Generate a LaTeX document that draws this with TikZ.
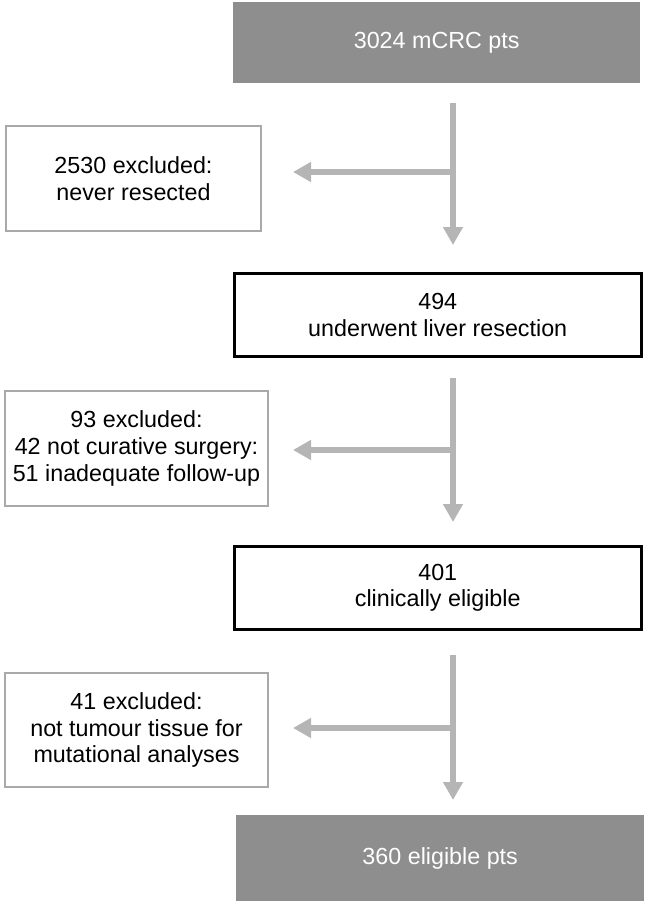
\documentclass[tikz,border=0pt]{standalone}
\usepackage{fontspec}
\setmainfont{Liberation Sans}
\usetikzlibrary{arrows.meta}
\definecolor{boxgray}{HTML}{8E8E8E}
\definecolor{arrgray}{HTML}{B5B5B5}
\definecolor{exgray}{HTML}{A9A9A9}
\begin{document}
\begin{tikzpicture}[x=1pt,y=-1pt,
  base/.style={align=center, inner sep=0pt, anchor=north west, font=\fontsize{23.3}{26.7}\selectfont},
  endbox/.style={base, fill=boxgray, text=white},
  mainbox/.style={base, draw=black, line width=2.5pt},
  exbox/.style={base, draw=exgray, line width=2pt},
  arr/.style={draw=arrgray, line width=6pt, -{Triangle[width=19pt,length=18pt]}}]
\useasboundingbox (0,0) rectangle (647,904);
% main column
\node[endbox, minimum width=407pt, minimum height=81pt] (top) at (233,2) {3024 mCRC pts};
\node[mainbox, minimum width=407pt, minimum height=83pt] (res) at (233,272) {494\\underwent liver resection};
\node[mainbox, minimum width=407pt, minimum height=83pt] (clin) at (233,545) {401\\clinically eligible};
\node[endbox, minimum width=408pt, minimum height=86pt] (fin) at (236,815) {360 eligible pts};
% excluded boxes
\node[exbox, minimum width=255pt, minimum height=105pt] (ex1) at (5,125) {2530 excluded:\\never resected};
\node[exbox, minimum width=263pt, minimum height=115pt] (ex2) at (4,390) {93 excluded:\\42 not curative surgery:\\51 inadequate follow-up};
\node[exbox, minimum width=263pt, minimum height=114pt] (ex3) at (4,672) {41 excluded:\\not tumour tissue for\\mutational analyses};
% arrow end points
\coordinate (a1s) at (453,103); \coordinate (a1e) at (453,245);
\coordinate (b1s) at (453,172); \coordinate (b1e) at (293,172);
\coordinate (a2s) at (453,378); \coordinate (a2e) at (453,522);
\coordinate (b2s) at (453,450); \coordinate (b2e) at (293,450);
\coordinate (a3s) at (453,655); \coordinate (a3e) at (453,800);
\coordinate (b3s) at (453,728); \coordinate (b3e) at (293,728);
\draw[arr] (a1s) -- (a1e);
\draw[arr] (b1s) -- (b1e);
\draw[arr] (a2s) -- (a2e);
\draw[arr] (b2s) -- (b2e);
\draw[arr] (a3s) -- (a3e);
\draw[arr] (b3s) -- (b3e);
\end{tikzpicture}
\end{document}
